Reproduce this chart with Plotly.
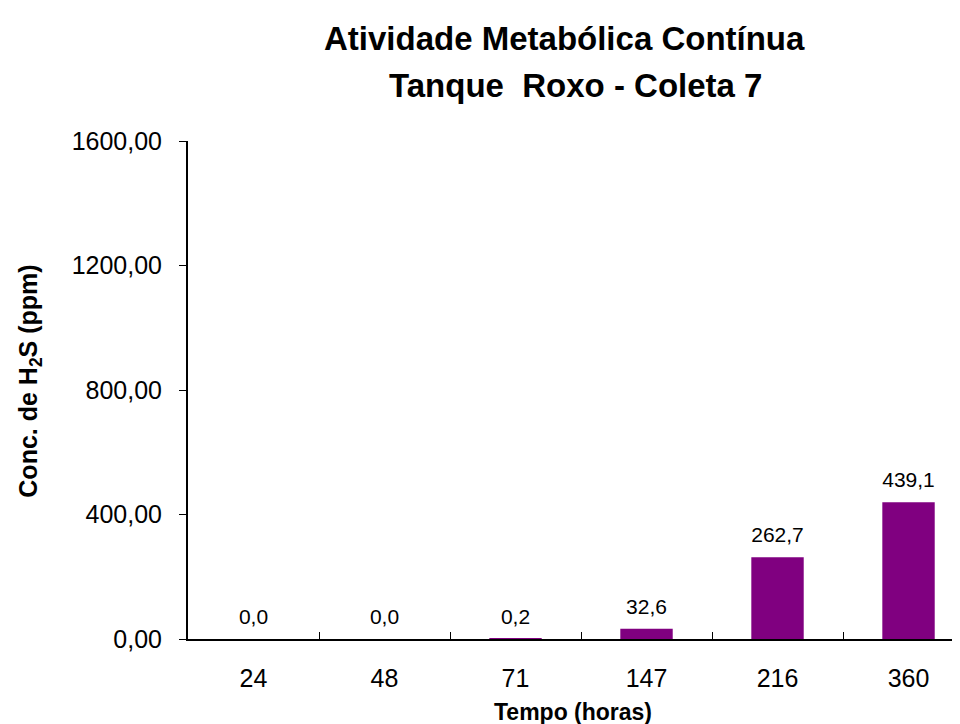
import plotly.graph_objects as go

horas = ["24", "48", "71", "147", "216", "360"]
h2s_ppm = [0.0, 0.0, 0.2, 32.6, 262.7, 439.1]

titulo_1 = "Atividade Metabólica Contínua"
titulo_2 = "Tanque  Roxo - Coleta 7"
eixo_x = "Tempo (horas)"
eixo_y = "Conc. de H<sub>2</sub>S (ppm)"

roxo = "#800080"
fonte = "Liberation Sans, Arial, sans-serif"

fig = go.Figure()

fig.add_trace(go.Bar(
    x=horas,
    y=h2s_ppm,
    width=0.4,
    marker=dict(color=roxo, line=dict(width=0)),
    hoverinfo="x+y"
))

# rótulos de valor acima das barras
fig.add_trace(go.Scatter(
    x=horas,
    y=h2s_ppm,
    mode="markers+text",
    marker=dict(size=14, opacity=0),
    text=[f"{v:.1f}".replace(".", ",") for v in h2s_ppm],
    textposition="top center",
    textfont=dict(family=fonte, size=21, color="black"),
    hoverinfo="skip",
    cliponaxis=False
))

fig.update_layout(
    width=960,
    height=724,
    margin=dict(l=180, r=0, t=133, b=93),
    paper_bgcolor="white",
    plot_bgcolor="white",
    showlegend=False,
    separators=",.",
    font=dict(family=fonte, color="black"),
    bargap=0.6
)

fig.update_xaxes(
    type="category",
    range=[-0.5, 5.454],
    showline=True,
    linecolor="black",
    linewidth=2,
    ticks="inside",
    tickson="boundaries",
    ticklen=7,
    tickcolor="black",
    tickwidth=1,
    showgrid=False,
    tickfont=dict(size=25),
    ticklabelstandoff=16
)

fig.update_yaxes(
    range=[0, 1600],
    tickvals=[0, 400, 800, 1200, 1600],
    tickformat=".2f",
    showline=True,
    linecolor="black",
    linewidth=2,
    ticks="outside",
    ticklen=7,
    tickcolor="black",
    tickwidth=1,
    showgrid=False,
    zeroline=False,
    tickfont=dict(size=25),
    ticklabelstandoff=12
)

fig.add_annotation(text="<b>" + titulo_1 + "</b>", xref="paper", yref="paper",
                   x=0.483, y=1.205, xanchor="center", yanchor="middle",
                   showarrow=False, font=dict(size=33))
fig.add_annotation(text="<b>" + titulo_2 + "</b>", xref="paper", yref="paper",
                   x=0.497, y=1.112, xanchor="center", yanchor="middle",
                   showarrow=False, font=dict(size=33))
fig.add_annotation(text="<b>" + eixo_x + "</b>", xref="paper", yref="paper",
                   x=0.494, y=-0.1466, xanchor="center", yanchor="middle",
                   showarrow=False, font=dict(size=23))
fig.add_annotation(text="<b>" + eixo_y + "</b>", xref="paper", yref="paper",
                   x=-0.203, y=0.518, xanchor="center", yanchor="middle",
                   textangle=-90, showarrow=False, font=dict(size=25))

fig.write_html("out.html")
